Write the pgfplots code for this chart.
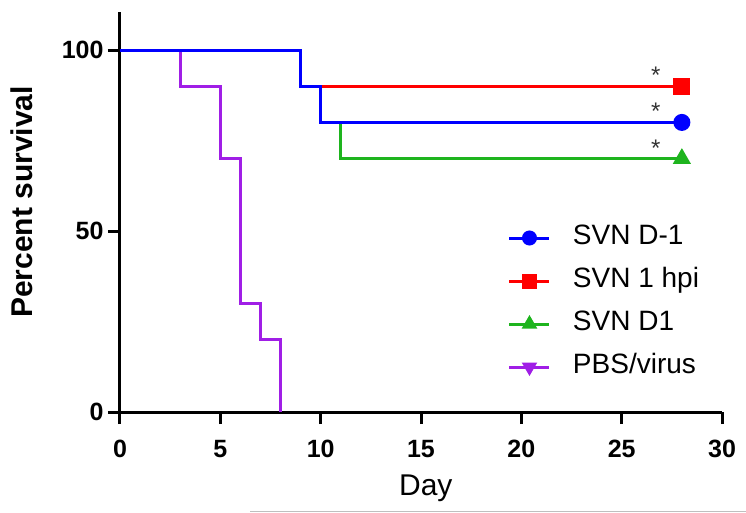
\documentclass[border=0pt]{standalone}
\usepackage{fontspec}
\setmainfont{Liberation Sans}
\usepackage{pgfplots}
\pgfplotsset{compat=1.18}
\definecolor{kmblue}{RGB}{0,0,255}
\definecolor{kmred}{RGB}{255,0,0}
\definecolor{kmgreen}{RGB}{30,180,30}
\definecolor{kmpurple}{RGB}{160,30,230}
\begin{document}
\begin{tikzpicture}
\path[use as bounding box] (-120pt,-100pt) rectangle (626pt,412pt);
\begin{axis}[
  at={(0pt,0pt)}, anchor=south west,
  scale only axis, width=602pt, height=400pt,
  xmin=0, xmax=30, ymin=0, ymax=110.5,
  axis x line=bottom, axis y line=left,
  axis line style={line width=3pt, -},
  clip=false,
  xtick={0,5,...,30}, ytick={0,50,100},
  tick align=outside, major tick length=12pt,
  tick style={line width=3pt, black},
  /pgf/number format/assume math mode=true,
  ticklabel style={font=\fontsize{25}{25}\selectfont\bfseries},
  xticklabel style={yshift=-13pt},
  yticklabel style={xshift=-1pt},
  xlabel={Day}, ylabel={\bfseries Percent survival},
  xlabel style={font=\fontsize{30}{30}\selectfont, at={(axis description cs:0.508,-0.19)}, anchor=center},
  ylabel style={font=\fontsize{30}{30}\selectfont, at={(axis description cs:-0.163,0.525)}, anchor=center, rotate=0},
  reverse legend,
  legend cell align=left,
  legend style={draw=none, fill=none, at={(0.6445,0.47)}, anchor=north west, inner sep=0pt, outer sep=0pt,
    font=\fontsize{28}{28}\selectfont, row sep=15pt, column sep=22pt,
    nodes={inner sep=0pt, text height=20pt, text depth=8pt}},
  legend image code/.code={\draw[#1, mark indices={2}, mark size=6pt] plot coordinates {(0pt,0pt) (20pt,0pt) (40pt,0pt)};},
]
\addplot[kmpurple, line width=3pt, const plot, mark=triangle*, mark size=7.5pt, every mark/.append style={rotate=180, solid}, mark indices={99}] coordinates {(0,100) (3,90) (5,70) (6,30) (7,20) (8,0)};
\addlegendentry{PBS/virus}
\addplot[kmgreen, line width=3pt, const plot, mark=triangle*, mark size=7.5pt, mark indices={5}] coordinates {(0,100) (9,90) (10,80) (11,70) (28,70)};
\addlegendentry{SVN D1}
\addplot[kmred, line width=3pt, const plot, mark=square*, mark size=7pt, mark indices={3}] coordinates {(0,100) (9,90) (28,90)};
\addlegendentry{SVN 1 hpi}
\addplot[kmblue, line width=3pt, const plot, mark=*, mark size=7pt, mark indices={4}] coordinates {(0,100) (9,90) (10,80) (28,80)};
\addlegendentry{SVN D-1}
\node[font=\fontsize{24}{24}\selectfont, text=black!80] at (axis cs:26.7,93) {*};
\node[font=\fontsize{24}{24}\selectfont, text=black!80] at (axis cs:26.7,83) {*};
\node[font=\fontsize{24}{24}\selectfont, text=black!80] at (axis cs:26.7,73) {*};
\end{axis}
\draw[black!25, line width=1pt] (130pt,-99pt) -- (626pt,-99pt);
\end{tikzpicture}
\end{document}
